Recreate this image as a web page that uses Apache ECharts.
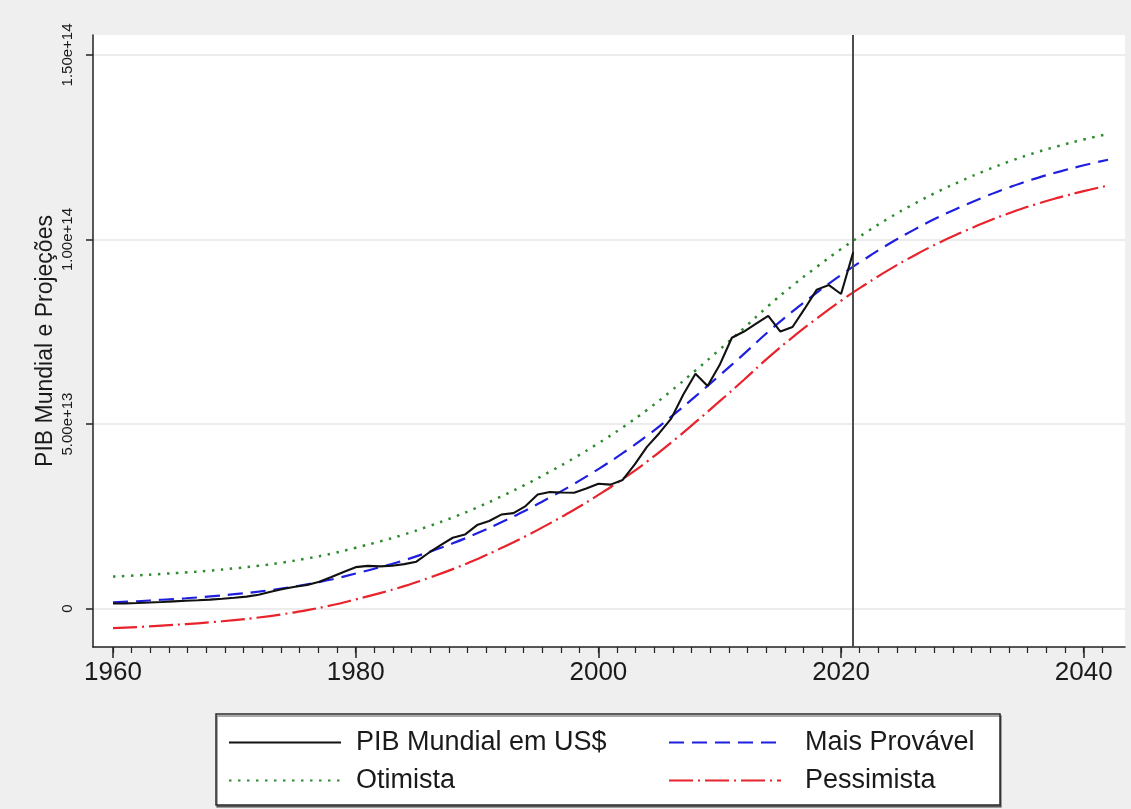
<!DOCTYPE html>
<html><head><meta charset="utf-8">
<script src="https://cdn.jsdelivr.net/npm/echarts@6/dist/echarts.min.js"></script>
<style>html,body{margin:0;padding:0;background:#efefef;}#c{width:1131px;height:809px;}</style>
</head><body><div id="c"></div>
<script>
// Values in trillions of US$ (1e12)
const gdpYears = [1960,1961,1962,1963,1964,1965,1966,1967,1968,1969,1970,1971,1972,1973,1974,1975,1976,1977,1978,1979,1980,1981,1982,1983,1984,1985,1986,1987,1988,1989,1990,1991,1992,1993,1994,1995,1996,1997,1998,1999,2000,2001,2002,2003,2004,2005,2006,2007,2008,2009,2010,2011,2012,2013,2014,2015,2016,2017,2018,2019,2020,2021];
const gdpValues = [1.37,1.42,1.53,1.65,1.80,1.96,2.13,2.26,2.43,2.68,2.96,3.25,3.76,4.58,5.30,5.90,6.42,7.26,8.54,9.93,11.23,11.57,11.43,11.63,12.05,12.71,15.07,17.19,19.20,20.05,22.62,23.73,25.48,25.86,27.77,30.89,31.57,31.44,31.37,32.52,33.83,33.59,34.86,39.05,43.81,47.46,51.47,58.00,63.61,60.33,66.04,73.37,75.07,77.22,79.33,75.05,76.29,81.25,86.42,87.65,85.24,96.53];
const projYears = [1960,1962,1964,1966,1968,1970,1972,1974,1976,1978,1980,1982,1984,1986,1988,1990,1992,1994,1996,1998,2000,2002,2004,2006,2008,2010,2012,2014,2016,2018,2020,2022,2024,2026,2028,2030,2032,2034,2036,2038,2040,2042];
const maisProvavel = [1.7,2.0,2.4,2.8,3.3,3.9,4.6,5.5,6.6,7.9,9.5,11.2,13.1,15.3,17.7,20.4,23.4,26.6,30.1,33.8,37.8,42.1,46.8,52.0,57.5,63.2,69.0,75.0,80.5,85.6,90.4,94.8,98.9,102.6,106.0,109.0,111.8,114.3,116.5,118.4,120.1,121.6];
const otimista = [8.7,9.0,9.4,9.8,10.3,10.9,11.6,12.5,13.6,14.9,16.5,18.2,20.1,22.3,24.7,27.4,30.4,33.6,37.1,40.8,44.8,49.1,53.8,59.0,64.5,70.2,76.0,82.0,87.5,92.6,97.4,101.8,105.9,109.6,113.0,116.0,118.8,121.3,123.5,125.4,127.1,128.6];
const pessimista = [-5.3,-5.0,-4.6,-4.2,-3.7,-3.1,-2.4,-1.5,-0.4,0.9,2.5,4.2,6.1,8.3,10.7,13.4,16.4,19.6,23.1,26.8,30.8,35.1,39.8,45.0,50.5,56.2,62.0,68.0,73.5,78.6,83.4,87.8,91.9,95.6,99.0,102.0,104.8,107.3,109.5,111.4,113.1,114.6];
const xTickLabels = [1960,1980,2000,2020,2040];
const yTickValues = [0,50,100,150];
const referenceYear = 2021;
const seriesNames = ['PIB Mundial em US$','Mais Provável','Otimista','Pessimista'];
const yAxisTitle = 'PIB Mundial e Projeções';

const FONT = "'Liberation Sans', Arial, sans-serif";
const zip = (xs, ys) => xs.map((x, i) => [x, ys[i]]);
const X_MIN = 1958.35, X_MAX = 2043.4;
const minorTicks = [];
for (let k = 0; k <= 53; k++) minorTicks.push(1960 + k * 20 / 13);

const legendCommon = {
  orient: 'vertical', top: 729, padding: 0, itemWidth: 112, itemHeight: 14, itemGap: 11, selectedMode: false,
  itemStyle: { opacity: 0 }
};

const chart = echarts.init(document.getElementById('c'));
chart.setOption({
  animation: false,
  backgroundColor: '#efefef',
  grid: { left: 93, right: 6, top: 35, bottom: 162, show: true, backgroundColor: '#ffffff', borderWidth: 0 },
  xAxis: [{
    type: 'value', min: X_MIN, max: X_MAX, position: 'bottom',
    axisLine: { show: true, onZero: false, lineStyle: { color: '#222', width: 1.5 } },
    axisTick: { show: true, length: 11, customValues: xTickLabels, lineStyle: { color: '#222', width: 1.5 } },
    axisLabel: { customValues: xTickLabels, fontSize: 26, color: '#1a1a1a', fontFamily: FONT, margin: 13,
      formatter: v => String(v) },
    splitLine: { show: false }
  }, {
    type: 'value', min: X_MIN, max: X_MAX, position: 'bottom', gridIndex: 0,
    axisLine: { show: false, onZero: false },
    axisTick: { show: true, length: 6, customValues: minorTicks, lineStyle: { color: '#222', width: 1.2 } },
    axisLabel: { show: false },
    splitLine: { show: false }
  }],
  yAxis: {
    type: 'value', min: -10.4, max: 155.4,
    name: yAxisTitle, nameLocation: 'middle', nameRotate: 90, nameGap: 36, nameMoveOverlap: false,
    nameTextStyle: { fontSize: 23, color: '#1a1a1a', fontFamily: FONT },
    axisLine: { show: true, onZero: false, lineStyle: { color: '#222', width: 1.5 } },
    axisTick: { show: true, length: 7, customValues: yTickValues, lineStyle: { color: '#222', width: 1.5 } },
    axisLabel: {
      customValues: yTickValues, rotate: 90, fontSize: 15, color: '#1a1a1a', fontFamily: FONT, margin: 18,
      formatter: v => v === 0 ? '0' : (v * 1e12).toExponential(2)
    },
    splitLine: { show: true, lineStyle: { color: '#e6e6e6', width: 1.5 } }
  },
  legend: [Object.assign({}, legendCommon, {
    data: [seriesNames[0], seriesNames[2]], left: 228,
    textStyle: { fontSize: 27, color: '#1a1a1a', fontFamily: FONT, padding: [0, 0, 0, 10] }
  }), Object.assign({}, legendCommon, {
    data: [seriesNames[1], seriesNames[3]], left: 668,
    textStyle: { fontSize: 27, color: '#1a1a1a', fontFamily: FONT, padding: [0, 0, 0, 19] }
  })],
  graphic: [{
    type: 'rect', z: 0, shape: { x: 216, y: 714, width: 784, height: 91 },
    style: { fill: '#ffffff', stroke: '#2a2a2a', lineWidth: 1.5, shadowColor: 'rgba(0,0,0,0.45)', shadowOffsetX: 1, shadowOffsetY: 2, shadowBlur: 0 }
  }],
  series: [{
    name: seriesNames[2], type: 'line', data: zip(projYears, otimista), symbol: 'none', smooth: true, z: 2,
    itemStyle: { color: '#2e8b2e' }, lineStyle: { color: '#2e8b2e', width: 2.5, type: [2.5, 6.5] }
  }, {
    name: seriesNames[1], type: 'line', data: zip(projYears, maisProvavel), symbol: 'none', smooth: true, z: 3,
    itemStyle: { color: '#1f1fe0' }, lineStyle: { color: '#1f1fe0', width: 2.2, type: [15, 8] }
  }, {
    name: seriesNames[3], type: 'line', data: zip(projYears, pessimista), symbol: 'none', smooth: true, z: 2,
    itemStyle: { color: '#e8232b' }, lineStyle: { color: '#e8232b', width: 2.2, type: [24, 5, 2, 5] }
  }, {
    name: seriesNames[0], type: 'line', data: zip(gdpYears, gdpValues), symbol: 'none', z: 5,
    itemStyle: { color: '#111' }, lineStyle: { color: '#111', width: 2.1 },
    markLine: {
      symbol: 'none', silent: true, label: { show: false },
      lineStyle: { color: '#4d4d4d', width: 2, type: 'solid' },
      data: [{ xAxis: referenceYear }]
    }
  }]
});
</script>
</body></html>
